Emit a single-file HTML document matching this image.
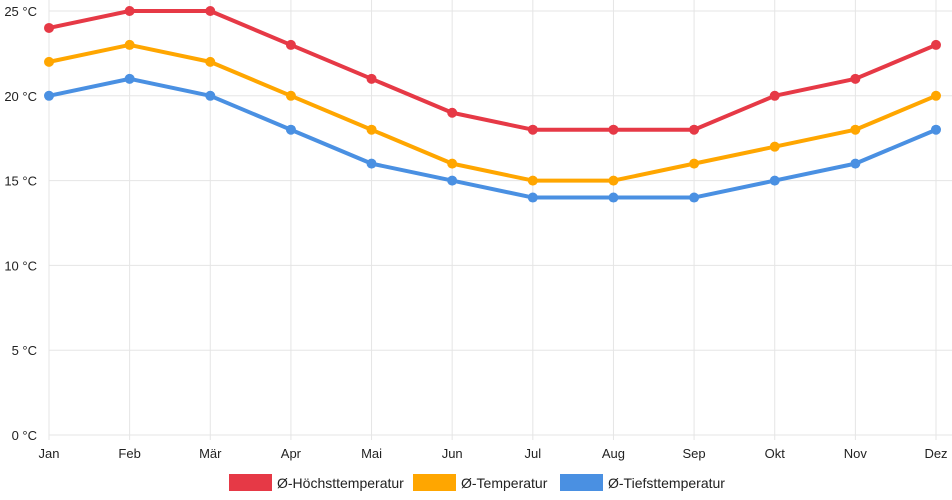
<!DOCTYPE html>
<html><head><meta charset="utf-8"><style>
html,body{margin:0;padding:0;background:#fff;}
svg{display:block;font-family:"Liberation Sans",sans-serif;}
</style></head><body>
<svg id="chart" width="952" height="500"></svg>
<script>
const months=["Jan","Feb","Mär","Apr","Mai","Jun","Jul","Aug","Sep","Okt","Nov","Dez"];
const maxTemp=[24,25,25,23,21,19,18,18,18,20,21,23];
const avgTemp=[22,23,22,20,18,16,15,15,16,17,18,20];
const minTemp=[20,21,20,18,16,15,14,14,14,15,16,18];
const yTicks=[0,5,10,15,20,25];
const seriesNames=["Ø-Höchsttemperatur","Ø-Temperatur","Ø-Tiefsttemperatur"];
const colors=["#e63946","#ffa600","#4a90e2"];
const NS="http://www.w3.org/2000/svg";
const svg=document.getElementById("chart");
const x0=49,x1=936,yTop=11,yBot=435;
function xs(i){return x0+i*(x1-x0)/(months.length-1);}
function ys(v){return yBot-(v/25)*(yBot-yTop);}
function mk(t,a,p){const e=document.createElementNS(NS,t);for(const k in a)e.setAttribute(k,a[k]);(p||svg).appendChild(e);return e;}
const grid=mk("g",{});


yTicks.forEach(v=>{
  const l=mk("line",{x1:x0,x2:x1+16,y1:ys(v),y2:ys(v),stroke:"#e5e5e5","stroke-width":1},grid);
  
  
  const t=mk("text",{x:37,y:ys(v)+5,"text-anchor":"end","font-size":13,fill:"#222"});
  t.textContent=v+" °C";
  
  
});
months.forEach((m,i)=>{
  const l=mk("line",{x1:xs(i),x2:xs(i),y1:yTop-11,y2:yBot+5,stroke:"#e5e5e5","stroke-width":1},grid);
  
  
  const t=mk("text",{x:xs(i),y:458,"text-anchor":"middle","font-size":13,fill:"#222"});
  t.textContent=m;
  
  
});
[maxTemp,avgTemp,minTemp].forEach((arr,s)=>{
  const g=mk("g",{});
  
  
  const p=mk("polyline",{points:arr.map((v,i)=>xs(i)+","+ys(v)).join(" "),fill:"none",stroke:colors[s],"stroke-width":4,"stroke-linejoin":"round"},g);
  
  
  arr.forEach((v,i)=>{
    const c=mk("circle",{cx:xs(i),cy:ys(v),r:5,fill:colors[s]},g);
    
    
  });
});
const legX=[229,413,560];
seriesNames.forEach((n,s)=>{
  const g=mk("g",{});
  
  
  mk("rect",{x:legX[s],y:474,width:43,height:17,fill:colors[s]},g);
  const t=mk("text",{x:legX[s]+48,y:488,"font-size":14,fill:"#222"},g);
  t.textContent=n;
});
</script>
</body></html>
